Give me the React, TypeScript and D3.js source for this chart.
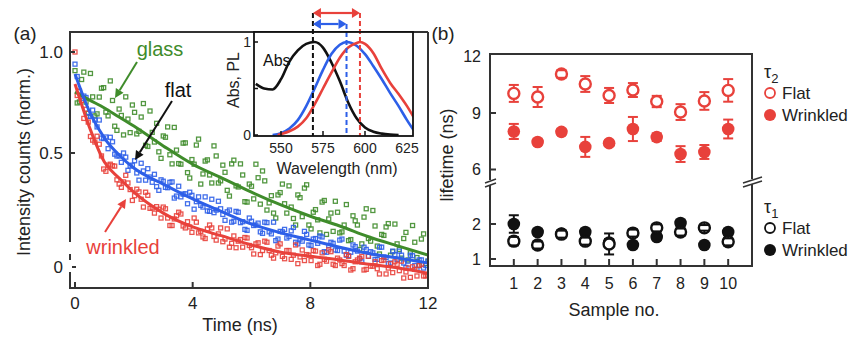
import { useEffect, useRef } from 'react';
import * as d3 from 'd3';

const FONT = '"Liberation Sans", Arial, Helvetica, sans-serif';
const RED = '#e8413b';
const BLUE = '#2d5fe8';
const GREEN = '#3f8c2b';
const AXIS = '#333';

// ---- panel (a): decay traces (normalized counts vs time, ns) ----
// two interleaved read-outs of each trace
const TIMES = [0, 0.15, 0.3, 0.45, 0.6, 0.75, 0.9, 1.05, 1.2, 1.35, 1.5, 1.65, 1.8, 1.95, 2.1, 2.25, 2.4, 2.55, 2.7, 2.85,
  3, 3.15, 3.3, 3.45, 3.6, 3.75, 3.9, 4.05, 4.2, 4.35, 4.5, 4.65, 4.8, 4.95, 5.1, 5.25, 5.4, 5.55, 5.7, 5.85,
  6, 6.15, 6.3, 6.45, 6.6, 6.75, 6.9, 7.05, 7.2, 7.35, 7.5, 7.65, 7.8, 7.95, 8.1, 8.25, 8.4, 8.55, 8.7, 8.85,
  9, 9.15, 9.3, 9.45, 9.6, 9.75, 9.9, 10.05, 10.2, 10.35, 10.5, 10.65, 10.8, 10.95, 11.1, 11.25, 11.4, 11.55, 11.7, 11.85, 12];
const TIMES_B = [0.075, 0.225, 0.375, 0.525, 0.675, 0.825, 0.975, 1.125, 1.275, 1.425, 1.575, 1.725, 1.875, 2.025, 2.175,
  2.325, 2.475, 2.625, 2.775, 2.925, 3.075, 3.225, 3.375, 3.525, 3.675, 3.825, 3.975, 4.125, 4.275, 4.425,
  4.575, 4.725, 4.875, 5.025, 5.175, 5.325, 5.475, 5.625, 5.775, 5.925, 6.075, 6.225, 6.375, 6.525, 6.675,
  6.825, 6.975, 7.125, 7.275, 7.425, 7.575, 7.725, 7.875, 8.025, 8.175, 8.325, 8.475, 8.625, 8.775, 8.925,
  9.075, 9.225, 9.375, 9.525, 9.675, 9.825, 9.975, 10.125, 10.275, 10.425, 10.575, 10.725, 10.875, 11.025,
  11.175, 11.325, 11.475, 11.625, 11.775, 11.925];

const WRINKLED_PTS = [1.0, .764, .634, .618, .546, .561, .490, .441, .463, .457,
  .404, .410, .407, .361, .390, .364, .382, .342, .331, .340,
  .345, .320, .304, .325, .329, .299, .301, .320, .289, .281,
  .297, .299, .275, .299, .277, .262, .283, .273, .262, .279,
  .261, .268, .249, .273, .256, .243, .264, .246, .256, .241,
  .266, .245, .239, .248, .256, .231, .252, .238, .254, .231,
  .240, .231, .246, .226, .240, .246, .225, .230, .237, .218,
  .240, .227, .220, .233, .238, .221, .213, .225, .231, .215, .216];
const WRINKLED_PTS_B = [.742, .717, .675, .560, .539, .531, .448, .460, .458, .416,
  .395, .429, .389, .373, .383, .345, .374, .343, .346, .320,
  .341, .304, .318, .333, .303, .312, .290, .311, .292, .278,
  .305, .282, .287, .272, .297, .269, .261, .276, .280, .265,
  .250, .270, .256, .271, .248, .252, .268, .242, .256, .248,
  .234, .257, .249, .239, .255, .233, .241, .257, .233, .243,
  .234, .249, .224, .237, .243, .224, .246, .230, .226, .239,
  .218, .234, .237, .223, .212, .227, .229, .215, .233, .215];

const FLAT_PTS = [.920, .764, .739, .643, .671, .598, .554, .558, .557, .496,
  .490, .500, .444, .460, .436, .466, .415, .424, .432, .387,
  .412, .394, .410, .372, .370, .378, .382, .340, .370, .345,
  .336, .364, .338, .341, .315, .338, .313, .333, .312, .294,
  .313, .305, .291, .311, .291, .311, .277, .291, .279, .293,
  .271, .277, .292, .266, .277, .269, .281, .253, .271, .257,
  .275, .255, .247, .266, .255, .237, .258, .254, .241, .262,
  .245, .234, .255, .241, .248, .228, .248, .231, .240, .227, .238];
const FLAT_PTS_B = [.845, .728, .732, .642, .627, .627, .552, .515, .540, .490,
  .469, .486, .457, .474, .415, .442, .449, .409, .397, .416,
  .395, .409, .367, .398, .377, .353, .374, .358, .349, .370,
  .335, .332, .359, .328, .334, .311, .335, .310, .296, .320,
  .304, .309, .288, .310, .287, .274, .292, .296, .282, .300,
  .268, .273, .286, .265, .278, .283, .254, .265, .269, .256,
  .277, .248, .253, .263, .242, .262, .246, .252, .241, .262,
  .244, .235, .249, .255, .235, .238, .247, .225, .240, .231];

const GLASS_PTS = [.880, .710, .871, .657, .735, .654, .780, .662, .820, .601,
  .676, .566, .631, .695, .570, .640, .527, .667, .539, .504,
  .562, .598, .464, .510, .463, .536, .421, .463, .550, .433,
  .477, .407, .490, .413, .438, .372, .476, .396, .430, .357,
  .398, .463, .352, .413, .355, .331, .375, .404, .331, .345,
  .305, .368, .393, .305, .333, .316, .357, .286, .331, .359,
  .289, .305, .274, .325, .305, .268, .341, .273, .303, .250,
  .284, .308, .254, .268, .243, .290, .252, .271, .231, .287, .238];
const GLASS_PTS_B = [.705, .828, .709, .863, .645, .734, .783, .645, .717, .584,
  .647, .735, .575, .661, .580, .702, .523, .576, .613, .482,
  .557, .494, .596, .465, .535, .437, .478, .528, .404, .473,
  .430, .525, .407, .460, .387, .464, .399, .464, .358, .404,
  .365, .422, .442, .338, .373, .320, .381, .353, .399, .319,
  .375, .323, .402, .297, .339, .289, .361, .318, .292, .333,
  .291, .351, .276, .314, .258, .322, .278, .337, .264, .286,
  .301, .248, .307, .258, .278, .240, .304, .244, .277, .234];

const FIT_T = [0, 0.5, 1, 1.5, 2, 3, 4, 5, 6, 7, 8, 9, 10, 11, 12];
const WRINKLED_FIT = [.803, .594, .470, .421, .382, .331, .301, .283, .266, .253, .246, .240, .233, .227, .219];
const FLAT_FIT = [.860, .662, .554, .493, .451, .404, .365, .334, .307, .289, .275, .262, .251, .243, .235];
const GLASS_FIT = [.760, .719, .681, .640, .602, .525, .463, .421, .382, .350, .324, .303, .281, .264, .248];

const A_X_TICKS = [0, 4, 8, 12];
const A_Y_TICKS = [1, 0.5];
const A_Y_LABELS = ['1.0', '0.5'];

// ---- inset: absorption & PL spectra ----
const ABS_WL = [535, 540, 545, 550, 555, 560, 565, 570, 575, 580, 585, 590, 595, 600, 605, 610, 615, 620];
const ABS_VAL = [.55, .50, .49, .60, .79, .91, .98, 1.0, .94, .78, .58, .35, .18, .08, .035, .015, .005, 0];
const PL_FLAT_WL = [545, 550, 555, 560, 565, 570, 575, 580, 585, 589, 595, 600, 605, 610, 615, 620, 625, 629];
const PL_FLAT_VAL = [0, .02, .07, .16, .31, .50, .70, .87, .97, 1.0, .96, .87, .74, .60, .45, .31, .16, .05];
const PL_WR_WL = [548, 550, 555, 560, 565, 570, 575, 580, 585, 590, 595, 597, 600, 605, 610, 615, 620, 625, 629];
const PL_WR_VAL = [0, .01, .04, .09, .18, .33, .50, .67, .83, .94, .99, 1.0, .98, .88, .71, .56, .44, .31, .19];
const PEAK_ABS = 569;
const PEAK_FLAT = 589;
const PEAK_WR = 597;
const INSET_X_TICKS = [550, 575, 600, 625];

// ---- panel (b): lifetimes ----
const SAMPLES = [1, 2, 3, 4, 5, 6, 7, 8, 9, 10];
const TAU2_FLAT = [10.04, 9.85, 11.07, 10.54, 9.93, 10.22, 9.61, 9.05, 9.64, 10.2];
const TAU2_FLAT_ERR = [0.45, 0.53, 0.2, 0.42, 0.4, 0.37, 0.3, 0.42, 0.47, 0.6];
const TAU2_WR = [8.02, 7.46, 8.0, 7.2, 7.4, 8.15, 7.72, 6.82, 6.93, 8.15];
const TAU2_WR_ERR = [0.4, 0.15, 0.15, 0.53, 0.15, 0.64, 0.2, 0.42, 0.37, 0.5];
const TAU1_FLAT = [1.51, 1.40, 1.71, 1.51, 1.43, 1.74, 1.89, 1.77, 1.89, 1.49];
const TAU1_FLAT_ERR = [0.12, 0.1, 0.1, 0.1, 0.3, 0.1, 0.1, 0.1, 0.08, 0.1];
const TAU1_WR = [2.0, 1.77, 1.73, 1.77, 1.47, 1.40, 1.63, 2.03, 1.40, 1.77];
const TAU1_WR_ERR = [0.25, 0.08, 0.08, 0.08, 0.1, 0.08, 0.08, 0.08, 0.06, 0.08];
const B_UPPER_TICKS = [12, 9, 6];
const B_LOWER_TICKS = [2, 1];

function label(g, x, y, s, size, anchor = 'middle', color = '#222') {
  return g.append('text').attr('x', x).attr('y', y).attr('dy', '0.35em')
    .attr('text-anchor', anchor).attr('font-family', FONT).attr('font-size', size)
    .attr('fill', color).text(s);
}

function arrowHead(g, x1, y1, x2, y2, color, len = 9, half = 4.5) {
  const a = Math.atan2(y2 - y1, x2 - x1);
  const bx = x2 - len * Math.cos(a), by = y2 - len * Math.sin(a);
  const px = -Math.sin(a) * half, py = Math.cos(a) * half;
  g.append('path').attr('d', `M${x2},${y2}L${bx + px},${by + py}L${bx - px},${by - py}Z`).attr('fill', color);
  return [bx, by];
}

function arrow(g, x1, y1, x2, y2, color, w = 2) {
  const [bx, by] = arrowHead(g, x1, y1, x2, y2, color);
  g.append('line').attr('x1', x1).attr('y1', y1).attr('x2', bx).attr('y2', by)
    .attr('stroke', color).attr('stroke-width', w);
}

function doubleArrow(g, x1, x2, y, color) {
  const [ax] = arrowHead(g, x2, y, x1, y, color, 8, 5);
  const [bx] = arrowHead(g, x1, y, x2, y, color, 8, 5);
  g.append('line').attr('x1', ax).attr('y1', y).attr('x2', bx).attr('y2', y)
    .attr('stroke', color).attr('stroke-width', 2.2);
}

function seg(g, x1, y1, x2, y2, color = AXIS, w = 2) {
  g.append('line').attr('x1', x1).attr('y1', y1).attr('x2', x2).attr('y2', y2)
    .attr('stroke', color).attr('stroke-width', w);
}

function drawPanelA(svg) {
  const L = 70, R = 428, T = 32, B = 288;
  const x = d3.scaleLinear().domain([-0.17, 12]).range([L, R]);
  const y = d3.scaleLog().domain([1, 0.5]).range([52, 153]);
  const g = svg.append('g');

  svg.append('clipPath').attr('id', 'clipA').append('rect')
    .attr('x', L).attr('y', T).attr('width', R - L).attr('height', B - T);
  const plot = g.append('g').attr('clip-path', 'url(#clipA)');

  const sets = [
    [GLASS_PTS, TIMES, GREEN], [GLASS_PTS_B, TIMES_B, GREEN],
    [FLAT_PTS, TIMES, BLUE], [FLAT_PTS_B, TIMES_B, BLUE],
    [WRINKLED_PTS, TIMES, RED], [WRINKLED_PTS_B, TIMES_B, RED],
  ];
  sets.forEach(([vals, ts, col]) => {
    plot.append('g').selectAll('rect').data(vals).join('rect')
      .attr('x', (d, i) => x(ts[i]) - 2).attr('y', d => y(d) - 2)
      .attr('width', 4).attr('height', 4)
      .attr('fill', 'none').attr('stroke', col).attr('stroke-width', 1.3).attr('opacity', 0.9);
  });

  const fits = [[GLASS_FIT, GREEN], [FLAT_FIT, BLUE], [WRINKLED_FIT, RED]];
  fits.forEach(([vals, col]) => {
    plot.append('path').datum(vals)
      .attr('fill', 'none').attr('stroke', col).attr('stroke-width', 3)
      .attr('d', d3.line().x((d, i) => x(FIT_T[i])).y(d => y(d)).curve(d3.curveMonotoneX));
  });

  // frame with broken left axis
  seg(g, L, T, R, T);
  seg(g, R, T, R, B);
  seg(g, L - 1, B, R + 1, B);
  seg(g, L, T - 1, L, 242);
  seg(g, L, 254, L, 260);
  seg(g, L, 272, L, B);

  A_Y_TICKS.forEach((v, i) => {
    seg(g, L, y(v), L + 5, y(v));
    label(g, 63, y(v), A_Y_LABELS[i], 17, 'end');
  });
  seg(g, L + 2, 267, L + 6, 267);
  label(g, 63, 267, '0', 17, 'end');

  A_X_TICKS.forEach(t => {
    if (t < 12) seg(g, x(t), B, x(t), B - 6);
    label(g, x(t), 303, String(t), 17);
  });

  label(g, 240, 325, 'Time (ns)', 18);
  g.append('text').attr('transform', 'translate(24,162) rotate(-90)').attr('dy', '0.35em')
    .attr('text-anchor', 'middle').attr('font-family', FONT).attr('font-size', 18)
    .attr('fill', '#222').text('Intensity counts (norm.)');
  label(g, 25, 33, '(a)', 19);

  // annotations
  label(g, 160, 49, 'glass', 20, 'middle', GREEN);
  arrow(g, 137, 62, 115, 98, GREEN);
  label(g, 178, 90, 'flat', 20, 'middle', '#111');
  arrow(g, 172, 101, 135, 160, '#111');
  label(g, 123, 247, 'wrinkled', 20, 'middle', RED);
  arrow(g, 105, 232, 126, 199, RED);
}

function drawInset(svg) {
  const L = 254, R = 413, T = 32, B = 136;
  const x = d3.scaleLinear().domain([550, 625]).range([281, 407]);
  const y = d3.scaleLinear().domain([0, 1]).range([135, 42]);
  const g = svg.append('g');

  g.append('rect').attr('x', L).attr('y', T).attr('width', R - L).attr('height', B - T)
    .attr('fill', '#fff');
  svg.append('clipPath').attr('id', 'clipI').append('rect')
    .attr('x', L).attr('y', T).attr('width', R - L).attr('height', B - T);
  const plot = g.append('g').attr('clip-path', 'url(#clipI)');

  const curves = [[ABS_WL, ABS_VAL, '#111'], [PL_FLAT_WL, PL_FLAT_VAL, BLUE], [PL_WR_WL, PL_WR_VAL, RED]];
  curves.forEach(([wl, vals, col]) => {
    plot.append('path').datum(vals)
      .attr('fill', 'none').attr('stroke', col).attr('stroke-width', 2.6)
      .attr('d', d3.line().x((d, i) => x(wl[i])).y(d => y(d)).curve(d3.curveMonotoneX));
  });

  const dashes = [[PEAK_ABS, '#111', 13], [PEAK_FLAT, BLUE, 24], [PEAK_WR, RED, 13]];
  dashes.forEach(([wl, col, top]) => {
    g.append('line').attr('x1', x(wl)).attr('x2', x(wl)).attr('y1', top).attr('y2', B)
      .attr('stroke', col).attr('stroke-width', 2).attr('stroke-dasharray', '5,3');
  });

  g.append('rect').attr('x', L).attr('y', T).attr('width', R - L).attr('height', B - T)
    .attr('fill', 'none').attr('stroke', '#111').attr('stroke-width', 1.8);

  doubleArrow(g, x(PEAK_ABS), x(PEAK_WR), 13, RED);
  doubleArrow(g, x(PEAK_ABS), x(PEAK_FLAT), 24, BLUE);

  [0, 0.5, 1].forEach(v => seg(g, L, y(v), L + 4, y(v), '#111', 1.5));
  label(g, 251, y(1), '1', 14, 'end');
  label(g, 251, y(0), '0', 14, 'end');
  INSET_X_TICKS.forEach(wl => {
    if (wl < 625) seg(g, x(wl), B, x(wl), B - 5, '#111', 1.5);
    label(g, x(wl), 148, String(wl), 14);
  });

  label(g, 337, 168, 'Wavelength (nm)', 16);
  g.append('text').attr('transform', 'translate(233,80) rotate(-90)').attr('dy', '0.35em')
    .attr('text-anchor', 'middle').attr('font-family', FONT).attr('font-size', 16)
    .attr('fill', '#222').text('Abs, PL');
  label(g, 263, 60, 'Abs', 16, 'start', '#111');
}

function drawPanelB(svg) {
  const L = 490, R = 752, T = 54, B = 266, BRK = 182;
  const x = d3.scaleLinear().domain([0, 11]).range([L, R]);
  const yU = d3.scaleLinear().domain([6, 12]).range([169.5, 56.5]);
  const yL = d3.scaleLinear().domain([1, 2]).range([259, 224]);
  const g = svg.append('g');

  // frame with breaks
  seg(g, L, T, R, T);
  seg(g, L - 1, B, R + 1, B);
  seg(g, L, T - 1, L, BRK - 2);
  seg(g, L, BRK + 3, L, B);
  seg(g, R, T - 1, R, BRK - 3);
  seg(g, R, BRK + 2, R, B);
  seg(g, L - 5, BRK + 1, L + 6, BRK - 3, AXIS, 1.5);
  seg(g, L - 5, BRK + 5, L + 6, BRK + 1, AXIS, 1.5);
  seg(g, R - 9, BRK + 1, R + 10, BRK - 5, AXIS, 1.5);
  seg(g, R - 9, BRK + 5, R + 10, BRK - 1, AXIS, 1.5);

  B_UPPER_TICKS.forEach(v => {
    if (v < 12) seg(g, L, yU(v), L + 6, yU(v));
    label(g, 481, yU(v), String(v), 16, 'end');
  });
  B_LOWER_TICKS.forEach(v => {
    seg(g, L, yL(v), L + 6, yL(v));
    label(g, 481, yL(v), String(v), 16, 'end');
  });
  SAMPLES.forEach(s => {
    seg(g, x(s), B, x(s), B - 7);
    label(g, x(s), 283, String(s), 16);
  });

  const groups = [
    [TAU2_WR, TAU2_WR_ERR, yU, RED, true],
    [TAU2_FLAT, TAU2_FLAT_ERR, yU, RED, false],
    [TAU1_WR, TAU1_WR_ERR, yL, '#111', true],
    [TAU1_FLAT, TAU1_FLAT_ERR, yL, '#111', false],
  ];
  groups.forEach(([vals, errs, ys, col, filled]) => {
    const gg = g.append('g');
    vals.forEach((v, i) => {
      const cx = x(SAMPLES[i]);
      const hi = ys(v + errs[i]), lo = ys(v - errs[i]);
      if (filled) {
        seg(gg, cx, hi, cx, lo, col, 2);
        seg(gg, cx - 5, hi, cx + 5, hi, col, 2);
        seg(gg, cx - 5, lo, cx + 5, lo, col, 2);
        gg.append('circle').attr('cx', cx).attr('cy', ys(v)).attr('r', 6.3).attr('fill', col);
      } else {
        gg.append('circle').attr('cx', cx).attr('cy', ys(v)).attr('r', 5.5)
          .attr('fill', '#fff').attr('stroke', col).attr('stroke-width', 2.4);
        seg(gg, cx, hi, cx, ys(v) - 5.5, col, 2);
        seg(gg, cx, ys(v) + 5.5, cx, lo, col, 2);
        seg(gg, cx - 5, hi, cx + 5, hi, col, 2);
        seg(gg, cx - 5, lo, cx + 5, lo, col, 2);
      }
    });
  });

  label(g, 614, 310, 'Sample no.', 18);
  g.append('text').attr('transform', 'translate(447,155) rotate(-90)').attr('dy', '0.35em')
    .attr('text-anchor', 'middle').attr('font-family', FONT).attr('font-size', 18)
    .attr('fill', '#222').text('lifetime (ns)');
  label(g, 443, 33, '(b)', 19);

  // legends
  const legend = (top, sub, col) => {
    const t = g.append('text').attr('x', 764).attr('y', top).attr('dy', '0.35em')
      .attr('font-family', FONT).attr('font-size', 18).attr('fill', '#222');
    t.append('tspan').text('τ');
    t.append('tspan').attr('font-size', 13).attr('dy', 5).text(sub);
    g.append('circle').attr('cx', 770).attr('cy', top + 21).attr('r', 5)
      .attr('fill', '#fff').attr('stroke', col).attr('stroke-width', 1.8);
    label(g, 782, top + 21, 'Flat', 17, 'start');
    g.append('circle').attr('cx', 770).attr('cy', top + 43).attr('r', 6).attr('fill', col);
    label(g, 782, top + 43, 'Wrinkled', 17, 'start');
  };
  legend(72, '2', RED);
  legend(207, '1', '#111');
}

export default function App() {
  const ref = useRef(null);
  useEffect(() => {
    const svg = d3.select(ref.current);
    svg.selectAll('*').remove();
    drawPanelA(svg);
    drawInset(svg);
    drawPanelB(svg);
  }, []);
  return (
    <svg ref={ref} width={855} height={341}
      style={{ position: 'absolute', left: 0, top: 0, background: '#fff' }} />
  );
}
